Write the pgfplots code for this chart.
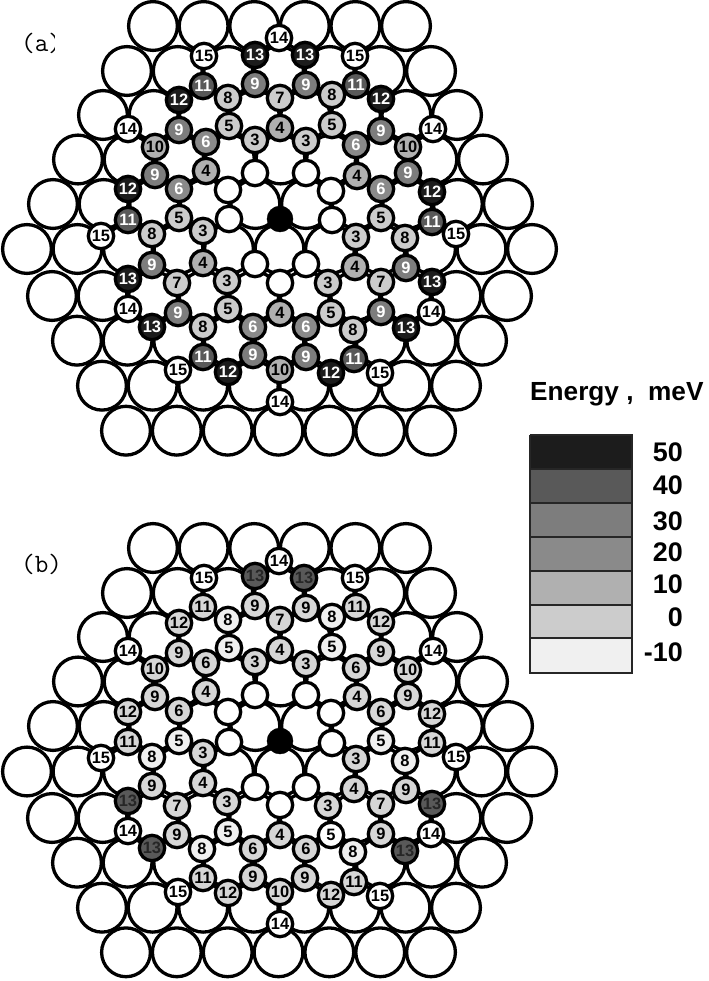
\documentclass[border=0pt]{standalone}
\usepackage{pgfplots}
\usepackage{pgfplotstable}
\usepackage{fontspec}
\pgfplotsset{compat=1.18}
\setmainfont{Liberation Sans}
\newcommand{\labfont}{\fontsize{16.5}{16.5}\selectfont\bfseries}
\newcommand{\barfont}{\fontsize{27}{27}\selectfont\bfseries}
\definecolor{c50}{gray}{0.11}
\definecolor{c40}{gray}{0.35}
\definecolor{c30}{gray}{0.49}
\definecolor{c20}{gray}{0.54}
\definecolor{c10}{gray}{0.69}
\definecolor{c0}{gray}{0.80}
\definecolor{cm10}{gray}{0.94}
\definecolor{cb}{gray}{0.84}
\pgfplotsset{
  big/.style={only marks,mark=o,mark size=24.4bp,mark options={draw=black,line width=3.3bp}},
  blank/.style={only marks,mark=*,mark size=12.7bp,mark options={draw=black,fill=white,line width=3.3bp}},
  site/.style 2 args={only marks,mark=*,mark size=12.7bp,
    mark options={draw=black,fill=#1,line width=3.3bp},
    nodes near coords,point meta=explicit symbolic,
    every node near coord/.style={anchor=center,inner sep=0pt,text=#2,font=\labfont}},
}
\begin{document}
\begin{tikzpicture}
\useasboundingbox (0,0) rectangle (709bp,981bp);
\begin{axis}[
  at={(0,0)},anchor=south west,
  scale only axis,width=709bp,height=981bp,
  xmin=0,xmax=709,ymin=0,ymax=981,
  y dir=reverse,hide axis,clip=false,
]
% panel a: substrate
\addplot[big] coordinates {
(153,26)(203.6,26)(254.2,26)(304.8,26)(355.4,26)(406,26)
(127,71)(177.7,71)(228.3,71)(279,71)(329.7,71)(380.3,71)(431,71)
(103,115)(153.6,115)(204.1,115)(254.7,115)(305.3,115)(355.9,115)(406.4,115)(457,115)
(78,159.5)(128.6,159.5)(179.3,159.5)(229.9,159.5)(280.5,159.5)(331.1,159.5)(381.8,159.5)(432.4,159.5)(483,159.5)
(53,204)(103.6,204)(154.2,204)(204.8,204)(255.4,204)(306,204)(356.7,204)(407.3,204)(457.9,204)(508,204)
(27,249)(77.5,249)(128,249)(178.5,249)(229,249)(279.5,249)(330,249)(380.5,249)(431,249)(481.5,249)(532,249)
(52,296)(102.6,296)(153.1,296)(203.7,296)(254.2,296)(304.8,296)(355.3,296)(405.9,296)(456.4,296)(507,296)
(77,340.7)(127.6,340.7)(178.2,340.7)(228.8,340.7)(279.5,340.7)(330.1,340.7)(380.7,340.7)(431.3,340.7)(482,340.7)
(102,385.7)(152.6,385.7)(203.2,385.7)(253.8,385.7)(304.3,385.7)(354.9,385.7)(405.5,385.7)(456,385.7)
(126,430.7)(176.8,430.7)(227.7,430.7)(278.5,430.7)(329.3,430.7)(380.2,430.7)(431,430.7)
};
% panel b: substrate
\addplot[big] coordinates {
(153,548)(203.6,548)(254.2,548)(304.8,548)(355.4,548)(406,548)
(127,593)(177.7,593)(228.3,593)(279,593)(329.7,593)(380.3,593)(431,593)
(103,637)(153.6,637)(204.1,637)(254.7,637)(305.3,637)(355.9,637)(406.4,637)(457,637)
(78,681.5)(128.6,681.5)(179.3,681.5)(229.9,681.5)(280.5,681.5)(331.1,681.5)(381.8,681.5)(432.4,681.5)(483,681.5)
(53,726)(103.6,726)(154.2,726)(204.8,726)(255.4,726)(306,726)(356.7,726)(407.3,726)(457.9,726)(508,726)
(27,771.5)(77.5,771.5)(128,771.5)(178.5,771.5)(229,771.5)(279.5,771.5)(330,771.5)(380.5,771.5)(431,771.5)(481.5,771.5)(532,771.5)
(52,818)(102.6,818)(153.1,818)(203.7,818)(254.2,818)(304.8,818)(355.3,818)(405.9,818)(456.4,818)(507,818)
(77,862.7)(127.6,862.7)(178.2,862.7)(228.8,862.7)(279.5,862.7)(330.1,862.7)(380.7,862.7)(431.3,862.7)(482,862.7)
(102,907.7)(152.6,907.7)(203.2,907.7)(253.8,907.7)(304.3,907.7)(354.9,907.7)(405.5,907.7)(456,907.7)
(126,952.3)(176.8,952.3)(227.7,952.3)(278.5,952.3)(329.3,952.3)(380.2,952.3)(431,952.3)
};
% panel a: empty sites and adatom
\addplot[blank] coordinates {(255,173)(228,190)(229,219)(255,264)(280,283)(306,173)(331,191)(332,220)(306,264)};
\addplot[only marks,mark=*,mark size=13bp,mark options={draw=black,fill=black}] coordinates {(280,219)};
% panel a: energies
\addplot[site={c0}{black}] table[meta=lab] {
x y lab
228 98 8
280 98 7
229 126 5
255 140 3
179 218 5
203 231 3
152 234 8
227 281 3
177 283 7
228 309 5
203 327 8
332 95 8
332 125 5
306 141 3
381 218 5
356 237 3
405 238 8
328 283 3
381 282 7
331 313 5
353 330 8
};
\addplot[site={c10}{black}] table[meta=lab] {
x y lab
280 128 4
155 147 10
206 171 4
203 263 4
280 313 4
408 147 10
357 176 4
355 267 4
280 370 10
};
\addplot[site={c20}{white}] table[meta=lab] {
x y lab
206 142 6
179 189 6
253 327 6
356 145 6
381 189 6
306 327 6
};
\addplot[site={c30}{white}] table[meta=lab] {
x y lab
255 84 9
179 130 9
155 175 9
152 265 9
178 313 9
253 355 9
306 85 9
381 131 9
408 173 9
406 268 9
381 312 9
306 357 9
};
\addplot[site={c40}{white}] table[meta=lab] {
x y lab
203 86 11
128 220 11
203 357 11
356 85 11
432 222 11
354 359 11
};
\addplot[site={c50}{white}] table[meta=lab] {
x y lab
255 55 13
179 100 12
128 189 12
128 279 13
152 327 13
228 372 12
305 55 13
381 99 12
432 192 12
432 282 13
406 328 13
331 373 12
};
\addplot[site={white}{black}] table[meta=lab] {
x y lab
204 56 15
279 38 14
128 129 14
101 236 15
128 309 14
178 370 15
280 402 14
355 56 15
433 129 14
456 234 15
431 312 14
380 373 15
};
% panel b: empty sites and adatom
\addplot[blank] coordinates {(255,695)(228,712)(229,742)(255,787)(280,805)(306,695)(331,713)(332,743)(306,787)};
\addplot[only marks,mark=*,mark size=13bp,mark options={draw=black,fill=black}] coordinates {(280,741)};
% panel b: energies
\addplot[site={cb}{black}] table[meta=lab] {
x y lab
203 607 11
179 623 12
255 606 9
280 620 7
179 653 9
206 663 6
255 662 3
280 650 4
155 669 10
155 697 9
206 692 4
179 711 6
128 712 12
128 742 11
203 753 3
152 786 9
203 783 4
177 806 7
227 802 3
177 835 9
280 835 4
253 849 6
203 878 11
253 877 9
228 893 12
280 892 10
356 607 11
306 608 9
381 622 12
381 652 9
306 664 3
356 668 6
408 670 10
357 697 4
408 696 9
381 712 6
432 714 12
432 743 11
356 759 3
354 789 4
406 790 9
328 806 3
381 804 7
381 834 9
306 849 6
305 878 9
354 882 11
331 895 12
};
\addplot[site={cm10}{black}] table[meta=lab] {
x y lab
228 620 8
229 648 5
179 741 5
152 757 8
228 832 5
202 849 8
332 617 8
332 647 5
381 741 5
405 761 8
353 852 8
};
\addplot[site={c40}{black!85}] table[meta=lab] {
x y lab
255 576 13
128 801 13
152 848 13
304 578 13
432 804 13
405 851 13
};
\addplot[site={white}{black}] table[meta=lab] {
x y lab
204 578 15
279 561 14
128 651 14
101 758 15
128 831 14
178 892 15
280 924 14
355 578 15
433 651 14
456 757 15
431 834 14
380 896 15
331 835 5
};
% energy scale
\addplot[draw=black!85,line width=1.5bp,fill=c50] coordinates {(530,435)(632,435)(632,469)(530,469)(530,435)};
\addplot[draw=black!85,line width=1.5bp,fill=c40] coordinates {(530,469)(632,469)(632,503)(530,503)(530,469)};
\addplot[draw=black!85,line width=1.5bp,fill=c30] coordinates {(530,503)(632,503)(632,537)(530,537)(530,503)};
\addplot[draw=black!85,line width=1.5bp,fill=c20] coordinates {(530,537)(632,537)(632,571)(530,571)(530,537)};
\addplot[draw=black!85,line width=1.5bp,fill=c10] coordinates {(530,571)(632,571)(632,605)(530,605)(530,571)};
\addplot[draw=black!85,line width=1.5bp,fill=c0] coordinates {(530,605)(632,605)(632,638)(530,638)(530,605)};
\addplot[draw=black!85,line width=1.5bp,fill=cm10] coordinates {(530,638)(632,638)(632,673)(530,673)(530,638)};
\node[anchor=base west,inner sep=0pt,font=\fontsize{26.3}{26.3}\selectfont\bfseries] at (axis cs:530,400) {Energy ,\ \ meV};
\node[anchor=east,inner sep=0pt,font=\barfont] at (axis cs:683,452) {50};
\node[anchor=east,inner sep=0pt,font=\barfont] at (axis cs:683,485) {40};
\node[anchor=east,inner sep=0pt,font=\barfont] at (axis cs:683,521) {30};
\node[anchor=east,inner sep=0pt,font=\barfont] at (axis cs:683,552) {20};
\node[anchor=east,inner sep=0pt,font=\barfont] at (axis cs:683,584) {10};
\node[anchor=east,inner sep=0pt,font=\barfont] at (axis cs:683,617) {0};
\node[anchor=east,inner sep=0pt,font=\barfont] at (axis cs:683,652) {-10};
% panel letters, cut at the right as in the source
\begin{scope}
\clip (axis cs:15,25) rectangle (axis cs:54.5,64);
\node[anchor=base west,inner sep=0pt,font=\ttfamily\fontsize{26.5}{26.5}\selectfont] at (axis cs:21,52) {(a)};
\end{scope}
\begin{scope}
\clip (axis cs:15,550) rectangle (axis cs:57.5,585);
\node[anchor=base west,inner sep=0pt,font=\ttfamily\fontsize{26.5}{26.5}\selectfont] at (axis cs:21,572) {(b)};
\end{scope}
\end{axis}
\end{tikzpicture}
\end{document}
